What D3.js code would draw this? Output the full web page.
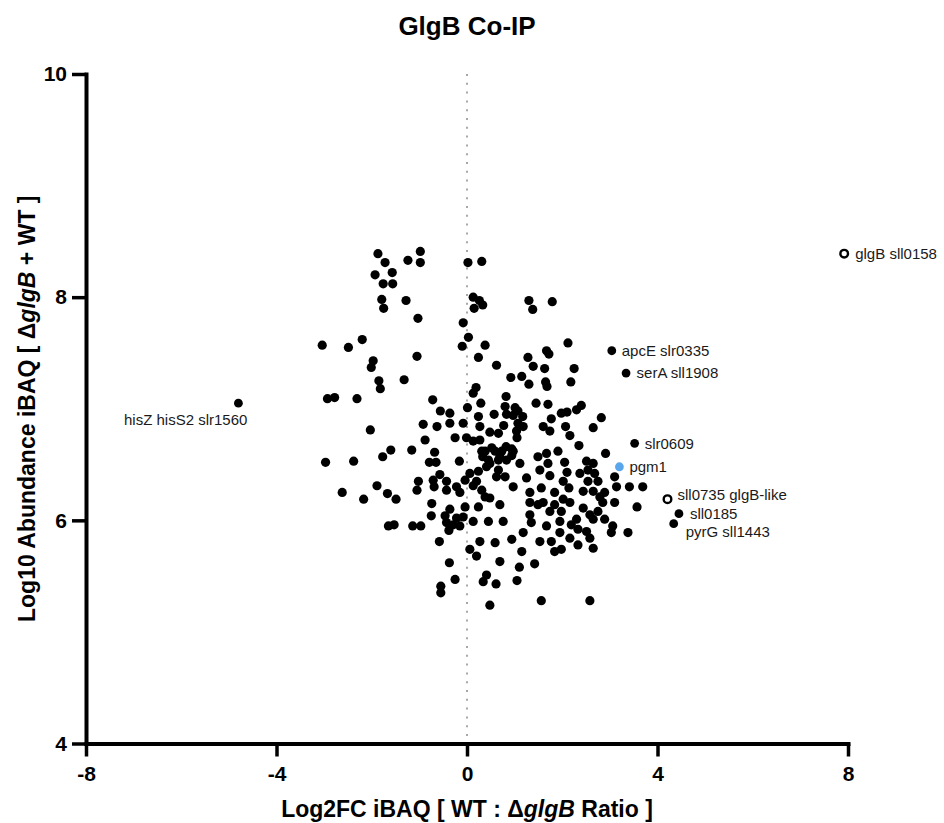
<!DOCTYPE html>
<html>
<head>
<meta charset="utf-8">
<script src="https://cdn.jsdelivr.net/npm/d3@7"></script>
<style>
  body { margin: 0; background: #fff; }
  svg { font-family: "Liberation Sans", Arial, sans-serif; }
</style>
</head>
<body>
<script>
// unlabeled proteins: Log2FC iBAQ (WT : ΔglgB) and Log10 abundance iBAQ
const log2FC = [
  -1.87, -1.72, -1.24, -0.98, -0.98, 0.02, 0.31, -1.93, -1.57, -1.76, -1.56, -1.79, -1.75, -1.28,
  0.13, 0.26, 0.33, 0.15, 1.30, 1.38, 1.79, -1.03, -0.08, 0.03, 0.38, -0.10, -3.04, -2.49, -2.20,
  -1.97, -2.01, -1.05, 0.24, 0.62, -1.85, -1.82, -1.32, -2.93, -2.78, -2.31, -0.72, -0.56, -0.36,
  0.01, 0.19, 0.13, 0.29, 0.24, 0.57, 2.12, 1.67, 1.72, 1.28, 1.39, 1.63, 2.25, 0.92, 1.15, 1.30,
  1.65, 1.68, 2.18, 0.82, 1.45, 1.70, 1.98, 2.10, 2.30, 2.40, 2.82, 0.80, 1.01, 1.07, 1.17, 0.97,
  0.83, 0.77, 0.48, 0.66, 1.07, 1.18, 1.60, 1.77, 2.07, 1.74, 2.16, 2.65, 2.35, 2.91, 0.27, 0.38,
  0.82, 0.94, 1.05, 0.97, 1.11, 1.49, 1.67, 1.70, 2.05, 2.51, 2.65, 2.54, 2.75, 2.37, 2.10, 2.02,
  1.74, 1.53, 1.25, 0.97, 0.66, 0.48, 0.69, 3.10, 3.14, 3.41, 3.69, 2.89, 2.14, 2.44, 2.65, 1.84,
  1.56, 1.32, 3.57, 3.38, 3.03, 2.85, 2.65, 0.69, 1.60, 1.84, 2.02, 2.16, 1.74, 1.98, 2.44, 2.75,
  3.10, 1.32, 1.35, 1.95, 2.30, 2.58, 2.89, 3.06, 1.18, 1.95, 2.16, 2.33, 2.51, 2.58, 2.33, 2.65,
  1.77, 1.84, 1.98, 1.53, 1.15, 0.45, 0.76, 0.27, 0.59, 0.94, 0.69, 1.10, 1.42, 0.41, 0.61, 1.05,
  0.48, 1.56, 2.58, -2.03, -0.92, -0.63, -0.36, -0.08, -0.88, -0.25, -0.01, 0.13, 0.27, -2.97,
  -2.38, -1.77, -1.60, -1.16, -0.68, -0.79, -0.65, -0.16, 0.31, 0.33, 0.52, -0.57, -0.71, -2.62,
  -2.17, -1.89, -1.67, -1.49, -1.02, -1.05, -0.69, -0.43, -0.43, -0.22, -0.15, -0.04, 0.06, 0.20,
  0.24, 0.31, 0.38, 0.48, -0.74, -0.75, -0.46, -0.36, -0.22, -0.08, -0.04, 0.24, 0.13, -0.43,
  -0.29, -1.65, -1.53, -1.14, -0.97, -0.58, -0.38, 0.06, 0.20, -0.37, -0.25, 0.34, -0.55, -0.55,
  1.04, 0.59, 0.73, 0.94, 0.45, 0.66, 0.83, 0.41, 0.62, 0.80, 0.13, 1.32, 1.49, -0.15, 1.91, 2.68,
  2.54, 2.79, 2.19, 1.67
];
const log10iBAQ = [
  8.39, 8.31, 8.33, 8.41, 8.31, 8.31, 8.32, 8.20, 8.22, 8.12, 8.12, 7.98, 7.90, 7.97,
  8.00, 7.97, 7.93, 7.90, 7.97, 7.89, 7.96, 7.81, 7.77, 7.64, 7.57, 7.56, 7.57, 7.55, 7.62,
  7.43, 7.37, 7.47, 7.46, 7.39, 7.25, 7.18, 7.26, 7.09, 7.10, 7.09, 7.08, 6.98, 6.96,
  7.01, 7.19, 7.14, 7.05, 6.93, 6.95, 7.59, 7.52, 7.49, 7.46, 7.38, 7.36, 7.36, 7.28, 7.29, 7.22,
  7.24, 7.20, 7.24, 7.11, 7.05, 7.04, 6.96, 6.97, 6.99, 7.03, 6.92, 7.02, 7.01, 6.98, 6.93, 6.94,
  6.95, 6.85, 6.79, 6.78, 6.87, 6.84, 6.84, 6.91, 6.84, 6.80, 6.76, 6.83, 6.67, 6.60, 6.72, 6.62,
  6.66, 6.64, 6.74, 6.62, 6.51, 6.57, 6.60, 6.51, 6.52, 6.53, 6.51, 6.45, 6.35, 6.42, 6.43, 6.35,
  6.40, 6.45, 6.38, 6.30, 6.45, 6.51, 6.57, 6.39, 6.30, 6.30, 6.30, 6.25, 6.29, 6.26, 6.26, 6.25,
  6.29, 6.25, 6.12, 5.89, 5.89, 6.16, 6.01, 6.14, 6.16, 6.14, 6.19, 6.16, 6.08, 6.08, 6.11, 6.08,
  6.16, 6.05, 5.98, 5.99, 6.01, 6.05, 6.01, 5.95, 5.89, 5.89, 5.84, 5.92, 5.90, 5.84, 5.78, 5.75,
  5.81, 5.72, 5.74, 5.81, 5.72, 5.99, 5.99, 5.81, 5.80, 5.83, 5.63, 5.58, 5.61, 5.51, 5.43, 5.46,
  5.24, 5.28, 5.28, 6.81, 6.86, 6.84, 6.87, 6.87, 6.72, 6.74, 6.74, 6.71, 6.84, 6.52,
  6.53, 6.57, 6.63, 6.63, 6.61, 6.52, 6.52, 6.53, 6.62, 6.57, 6.65, 6.41, 6.36, 6.25,
  6.19, 6.31, 6.24, 6.19, 6.35, 6.27, 6.30, 6.35, 6.27, 6.30, 6.25, 6.36, 6.42, 6.35,
  6.44, 6.27, 6.21, 6.20, 6.15, 6.04, 6.04, 6.10, 6.02, 6.03, 6.12, 6.12, 5.99, 5.98,
  5.96, 5.95, 5.96, 5.95, 5.95, 5.81, 5.91, 5.74, 5.68, 5.62, 5.47, 5.45, 5.41, 5.35,
  6.80, 6.62, 6.62, 6.58, 6.54, 6.54, 6.54, 6.48, 6.39, 6.39, 6.31, 6.16, 6.14, 5.95, 6.62, 6.42,
  6.35, 6.21, 5.96, 5.95
];

// labeled proteins
const hitNames = ["glgB sll0158", "apcE slr0335", "serA sll1908", "slr0609", "pgm1",
  "sll0735 glgB-like", "sll0185", "pyrG sll1443", "hisZ hisS2 slr1560"];
const hitFC = [7.92, 3.04, 3.34, 3.52, 3.20, 4.21, 4.45, 4.34, -4.80];
const hitAbund = [8.39, 7.52, 7.32, 6.69, 6.48, 6.19, 6.06, 5.97, 7.05];

const xTicks = [-8, -4, 0, 4, 8];
const yTicks = [4, 6, 8, 10];

const width = 944, height = 823;

const svg = d3.select("body").append("svg")
  .attr("width", width)
  .attr("height", height);

const x = d3.scaleLinear().domain([-8, 8]).range([86, 848]);
const y = d3.scaleLinear().domain([4, 10]).range([743.5, 74]);

// zero line
svg.append("line")
  .attr("x1", x(0)).attr("x2", x(0))
  .attr("y1", y(10)).attr("y2", y(4))
  .attr("stroke", "#a8a8a8")
  .attr("stroke-width", 2)
  .attr("stroke-dasharray", "2,6.8");

// axes (plain hyphen for negatives, integers only)
const fmt = d => String(d);
const xAxis = svg.append("g")
  .attr("transform", `translate(0,${y(4)})`)
  .call(d3.axisBottom(x).tickValues(xTicks).tickFormat(fmt).tickSize(13).tickSizeOuter(0).tickPadding(10));
const yAxis = svg.append("g")
  .attr("transform", `translate(${x(-8)},0)`)
  .call(d3.axisLeft(y).tickValues(yTicks).tickFormat(fmt).tickSize(14).tickSizeOuter(0).tickPadding(5));

[xAxis, yAxis].forEach(g => {
  g.select(".domain").attr("stroke", "#000").attr("stroke-width", 4).attr("stroke-linecap", "square");
  g.selectAll(".tick line").attr("stroke", "#000").attr("stroke-width", 3.5);
  g.selectAll(".tick text")
    .attr("fill", "#000")
    .style("font-size", "21px")
    .style("font-weight", "bold")
    .style("font-family", "'Liberation Sans', Arial, sans-serif");
});

// points
const pts = log2FC.map((d, i) => ({ fc: d, ab: log10iBAQ[i] }));
svg.append("g").selectAll("circle")
  .data(pts)
  .join("circle")
  .attr("cx", d => x(d.fc))
  .attr("cy", d => y(d.ab))
  .attr("r", 4.6)
  .attr("fill", "#000");

// labeled points
const openHits = ["glgB sll0158", "sll0735 glgB-like"];
const labelPos = {
  "glgB sll0158": [11, 5, "start"],
  "apcE slr0335": [10, 5.5, "start"],
  "serA sll1908": [10.5, 5, "start"],
  "slr0609": [10, 5.5, "start"],
  "pgm1": [10, 5.5, "start"],
  "sll0735 glgB-like": [10, 0.5, "start"],
  "sll0185": [11, 5.5, "start"],
  "pyrG sll1443": [12, 13, "start"],
  "hisZ hisS2 slr1560": [9, 21.5, "end"]
};

const hits = hitNames.map((n, i) => ({ name: n, fc: hitFC[i], ab: hitAbund[i] }));
const hitG = svg.append("g");
hits.forEach(d => {
  const open = openHits.includes(d.name);
  hitG.append("circle")
    .attr("cx", x(d.fc))
    .attr("cy", y(d.ab))
    .attr("r", open ? 3.8 : 4.4)
    .attr("fill", open ? "#fff" : (d.name === "pgm1" ? "#5aa6ec" : "#000"))
    .attr("stroke", open ? "#000" : "none")
    .attr("stroke-width", open ? 2.4 : 0);
  const p = labelPos[d.name];
  hitG.append("text")
    .attr("x", x(d.fc) + p[0])
    .attr("y", y(d.ab) + p[1])
    .attr("text-anchor", p[2])
    .attr("fill", "#1a1a1a")
    .style("font-size", "15px")
    .text(d.name);
});

// title
svg.append("text")
  .attr("x", x(0))
  .attr("y", 35)
  .attr("text-anchor", "middle")
  .style("font-size", "26px")
  .style("font-weight", "bold")
  .text("GlgB Co-IP");

// x label
const xl = svg.append("text")
  .attr("x", x(0))
  .attr("y", 817)
  .attr("text-anchor", "middle")
  .style("font-size", "23px")
  .style("font-weight", "bold");
xl.append("tspan").text("Log2FC iBAQ [ WT : \u0394");
xl.append("tspan").style("font-style", "italic").text("glgB");
xl.append("tspan").text(" Ratio ]");

// y label
const yl = svg.append("text")
  .attr("transform", `translate(35,${(y(4) + y(10)) / 2}) rotate(-90)`)
  .attr("text-anchor", "middle")
  .style("font-size", "23px")
  .style("font-weight", "bold");
yl.append("tspan").text("Log10 Abundance iBAQ [ \u0394");
yl.append("tspan").style("font-style", "italic").text("glgB");
yl.append("tspan").text(" + WT ]");
</script>
</body>
</html>
